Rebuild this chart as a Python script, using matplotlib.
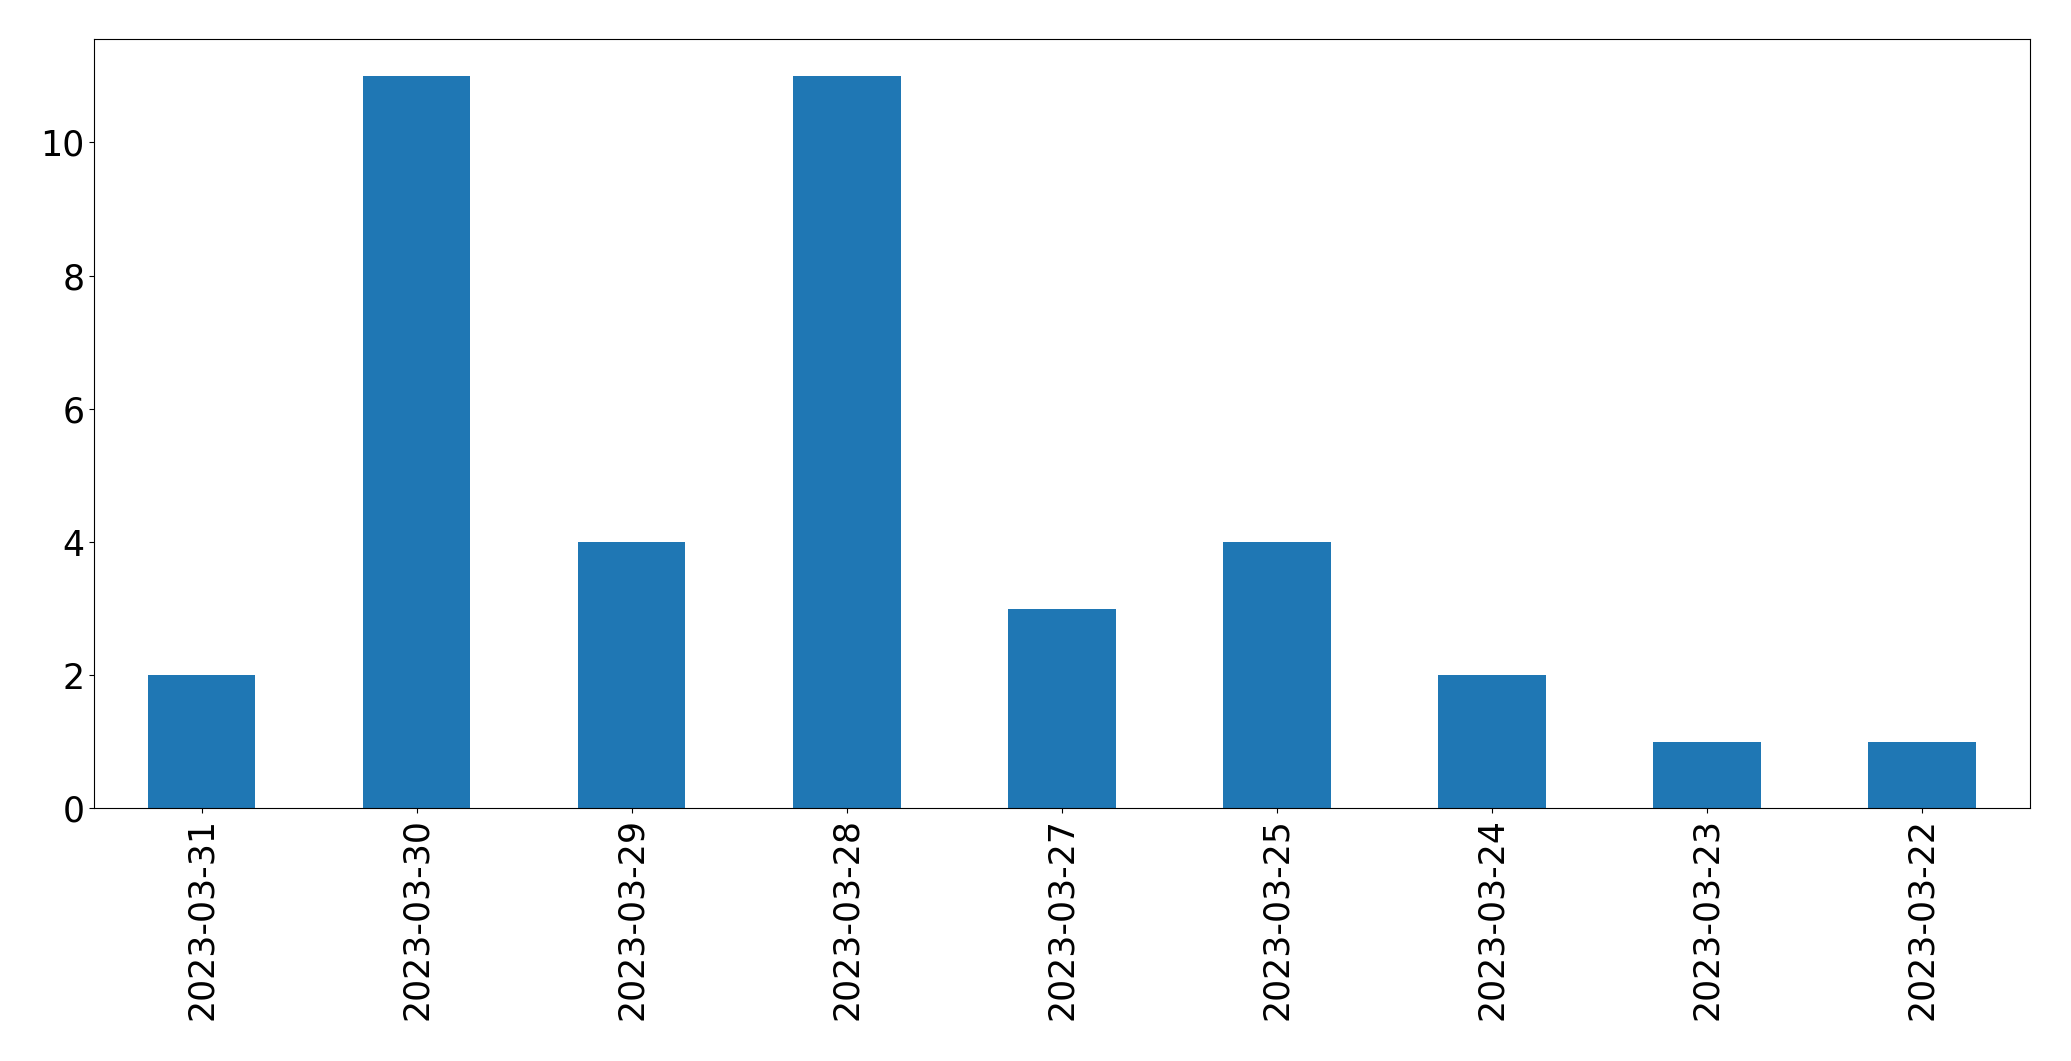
import matplotlib
matplotlib.use("Agg")
import matplotlib.pyplot as plt
import numpy as np

dates = ["2023-03-31", "2023-03-30", "2023-03-29", "2023-03-28", "2023-03-27",
         "2023-03-25", "2023-03-24", "2023-03-23", "2023-03-22"]
counts = [2, 11, 4, 11, 3, 4, 2, 1, 1]

fig = plt.figure(figsize=(20.71, 10.61), dpi=100)
ax = fig.add_axes([0.0454, 0.238, 0.9346, 0.725])
x = np.arange(len(dates))
ax.bar(x, counts, width=0.5, color="#1f77b4")
ax.set_xlim(-0.5, len(dates) - 0.5)
ax.set_ylim(0, 11.55)
ax.set_xticks(x)
ax.set_xticklabels(dates, rotation=90)
ax.tick_params(labelsize=25)
fig.savefig("out.png", dpi=100)
